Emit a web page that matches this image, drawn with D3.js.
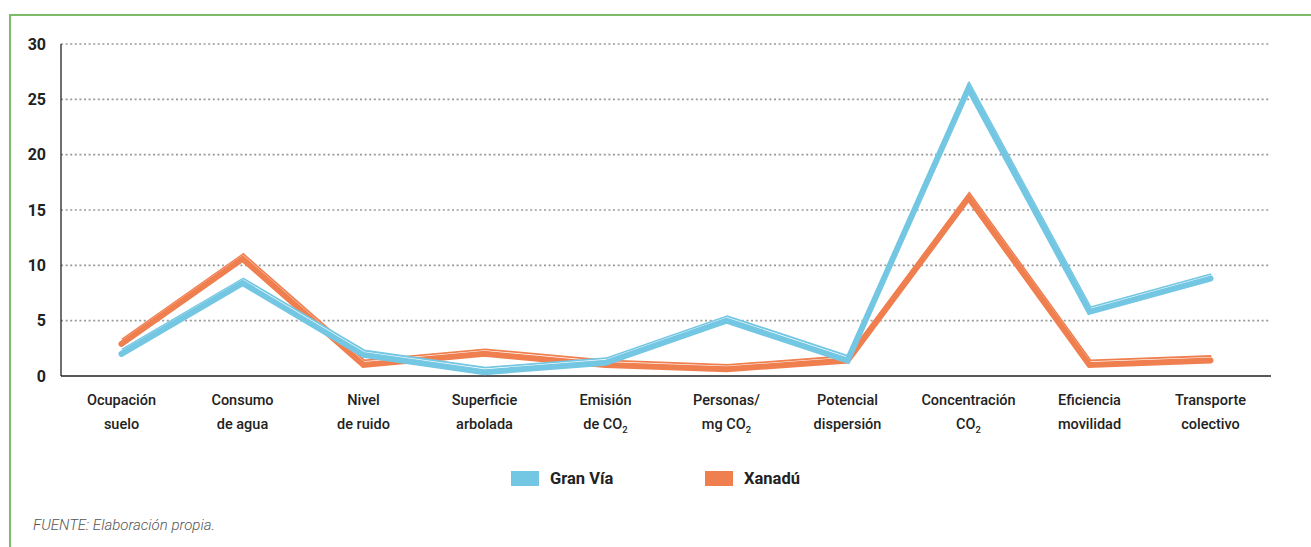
<!DOCTYPE html>
<html>
<head>
<meta charset="utf-8">
<script src="https://cdn.jsdelivr.net/npm/d3@7"></script>
<style>
  html, body { margin: 0; padding: 0; background: #fff; }
  svg { display: block; }
  text { font-family: "Roboto", "DejaVu Sans Condensed", sans-serif; fill: #222; }
</style>
</head>
<body>
<svg id="chart" width="1311" height="547"></svg>
<script>
// Indicator names (two lines each; "_2" marks a subscript 2)
const categories = [
  ["Ocupación", "suelo"],
  ["Consumo", "de agua"],
  ["Nivel", "de ruido"],
  ["Superficie", "arbolada"],
  ["Emisión", "de CO_2"],
  ["Personas/", "mg CO_2"],
  ["Potencial", "dispersión"],
  ["Concentración", "CO_2"],
  ["Eficiencia", "movilidad"],
  ["Transporte", "colectivo"]
];
const granVia = [2.0, 8.4, 1.9, 0.35, 1.2, 5.0, 1.4, 26.0, 5.8, 8.8];
const xanadu  = [2.9, 10.6, 1.0, 2.0, 1.0, 0.6, 1.4, 16.1, 1.0, 1.4];
const yTicks = [0, 5, 10, 15, 20, 25, 30];
const seriesNames = ["Gran Vía", "Xanadú"];
const seriesColors = ["#74c7e3", "#f07f4f"];

const svg = d3.select("#chart");

// Green frame
svg.append("path")
  .attr("d", "M10,560 L10,15 L1320,15")
  .attr("fill", "none")
  .attr("stroke", "#7dba6a")
  .attr("stroke-width", 2);

const plotLeft = 61, plotRight = 1271, plotTop = 44, plotBottom = 376;

const x = d3.scalePoint()
  .domain(d3.range(categories.length))
  .range([plotLeft, plotRight])
  .padding(0.5);

const y = d3.scaleLinear().domain([0, 30]).range([plotBottom, plotTop]);

// Dotted gridlines
svg.append("g")
  .selectAll("line")
  .data(yTicks.filter(d => d > 0))
  .join("line")
  .attr("x1", plotLeft).attr("x2", plotRight - 1)
  .attr("y1", d => y(d)).attr("y2", d => y(d))
  .attr("stroke", "#9a9a9a")
  .attr("stroke-width", 1.6)
  .attr("stroke-dasharray", "2,2.6");

// Y axis labels
const yAxis = d3.axisLeft(y).tickValues(yTicks).tickSize(0).tickPadding(15);
const gy = svg.append("g").attr("transform", `translate(${plotLeft},0)`).call(yAxis);
gy.select(".domain").remove();
gy.selectAll("text")
  .attr("font-size", 16)
  .attr("font-weight", 700)
  .attr("fill", "#222")
  .style("font-family", '"Roboto", sans-serif');

// Axis lines
svg.append("line")
  .attr("x1", plotLeft).attr("x2", plotLeft)
  .attr("y1", plotTop).attr("y2", plotBottom)
  .attr("stroke", "#222").attr("stroke-width", 1.3);
svg.append("line")
  .attr("x1", plotLeft).attr("x2", plotRight)
  .attr("y1", plotBottom).attr("y2", plotBottom)
  .attr("stroke", "#222").attr("stroke-width", 1.3);

// Category labels
const catG = svg.append("g");
categories.forEach((lines, i) => {
  lines.forEach((ln, j) => {
    const t = catG.append("text")
      .attr("x", x(i))
      .attr("y", 405 + j * 24)
      .attr("text-anchor", "middle")
      .attr("font-size", 14.5)
      .attr("font-weight", 500);
    const parts = ln.split("_");
    t.append("tspan").text(parts[0]);
    if (parts.length > 1) {
      t.append("tspan")
        .attr("font-size", 9.5)
        .attr("dy", 4)
        .text(parts[1]);
    }
  });
});

// Lines: thick stroke plus a thin offset highlight
const line = d3.line()
  .x((d, i) => x(i))
  .y(d => y(d));

const series = [
  { name: seriesNames[1], values: xanadu, color: seriesColors[1] },
  { name: seriesNames[0], values: granVia, color: seriesColors[0] }
];

series.forEach(s => {
  const g = svg.append("g");
  g.append("path")
    .attr("d", line(s.values))
    .attr("transform", "translate(0.8,-3.8)")
    .attr("fill", "none")
    .attr("stroke", s.color)
    .attr("stroke-width", 3.2)
    .attr("stroke-linejoin", "miter");
  g.append("path")
    .attr("d", line(s.values))
    .attr("transform", "translate(0.4,-2.4)")
    .attr("fill", "none")
    .attr("stroke", "#fff")
    .attr("stroke-width", 2.4)
    .attr("stroke-linejoin", "miter");
  g.append("path")
    .attr("d", line(s.values))
    .attr("fill", "none")
    .attr("stroke", s.color)
    .attr("stroke-width", 6)
    .attr("stroke-linecap", "round")
    .attr("stroke-linejoin", "miter");
});

// Legend
const legend = svg.append("g");
const legendX = [511, 705];
seriesNames.forEach((n, i) => {
  legend.append("rect")
    .attr("x", legendX[i]).attr("y", 471)
    .attr("width", 28).attr("height", 15)
    .attr("fill", seriesColors[i]);
  legend.append("text")
    .attr("x", legendX[i] + 39).attr("y", 484)
    .attr("font-size", 16.5)
    .attr("font-weight", 700)
    .text(n);
});

// Source note
svg.append("text")
  .attr("x", 33).attr("y", 530)
  .attr("font-size", 15)
  .attr("font-style", "italic")
  .attr("font-weight", 300)
  .style("fill", "#555")
  .text("FUENTE: Elaboración propia.");
</script>
</body>
</html>
